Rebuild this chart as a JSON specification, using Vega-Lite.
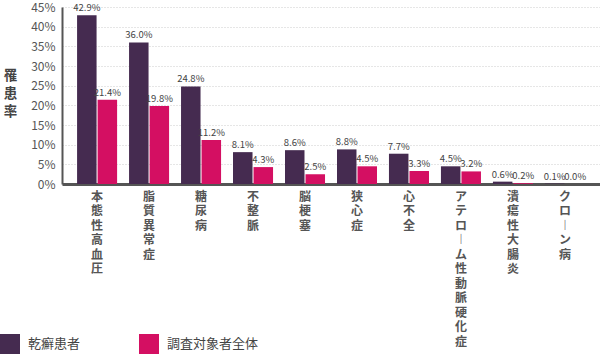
{
  "$schema": "https://vega.github.io/schema/vega-lite/v6.json",
  "autosize": "none",
  "width": 538,
  "height": 177,
  "padding": {"left": 62, "top": 7, "right": 0, "bottom": 170},
  "background": "white",
  "config": {
    "font": "Noto Sans CJK JP",
    "view": {"stroke": null}
  },
  "data": {
    "values": [
      {"disease": "本態性高血圧", "group": "乾癬患者", "rate": 0.429},
      {"disease": "本態性高血圧", "group": "調査対象者全体", "rate": 0.214},
      {"disease": "脂質異常症", "group": "乾癬患者", "rate": 0.360},
      {"disease": "脂質異常症", "group": "調査対象者全体", "rate": 0.198},
      {"disease": "糖尿病", "group": "乾癬患者", "rate": 0.248},
      {"disease": "糖尿病", "group": "調査対象者全体", "rate": 0.112},
      {"disease": "不整脈", "group": "乾癬患者", "rate": 0.081},
      {"disease": "不整脈", "group": "調査対象者全体", "rate": 0.043},
      {"disease": "脳梗塞", "group": "乾癬患者", "rate": 0.086},
      {"disease": "脳梗塞", "group": "調査対象者全体", "rate": 0.025},
      {"disease": "狭心症", "group": "乾癬患者", "rate": 0.088},
      {"disease": "狭心症", "group": "調査対象者全体", "rate": 0.045},
      {"disease": "心不全", "group": "乾癬患者", "rate": 0.077},
      {"disease": "心不全", "group": "調査対象者全体", "rate": 0.033},
      {"disease": "アテローム性動脈硬化症", "group": "乾癬患者", "rate": 0.045},
      {"disease": "アテローム性動脈硬化症", "group": "調査対象者全体", "rate": 0.032},
      {"disease": "潰瘍性大腸炎", "group": "乾癬患者", "rate": 0.006},
      {"disease": "潰瘍性大腸炎", "group": "調査対象者全体", "rate": 0.002},
      {"disease": "クローン病", "group": "乾癬患者", "rate": 0.001},
      {"disease": "クローン病", "group": "調査対象者全体", "rate": 0.0}
    ]
  },
  "encoding": {
    "x": {
      "field": "disease",
      "type": "nominal",
      "sort": null,
      "scale": {"paddingInner": 0.23, "paddingOuter": 0.29},
      "axis": {
        "title": null,
        "labelAngle": 0,
        "labelAlign": "center",
        "labelBaseline": "top",
        "labelExpr": "split(replace(datum.label, 'ー', '︱'), '')",
        "labelFontSize": 12,
        "labelFontWeight": "bold",
        "labelLineHeight": 14.5,
        "labelColor": "#555555",
        "labelPadding": 7,
        "labelLimit": 0,
        "ticks": false,
        "domainColor": "#555555",
        "domainWidth": 3
      }
    },
    "xOffset": {
      "field": "group",
      "type": "nominal",
      "sort": ["乾癬患者", "調査対象者全体"],
      "scale": {"paddingInner": 0.05, "paddingOuter": 0}
    },
    "y": {
      "field": "rate",
      "type": "quantitative",
      "scale": {"domain": [0, 0.45], "nice": false},
      "axis": {
        "values": [0, 0.05, 0.1, 0.15, 0.2, 0.25, 0.3, 0.35, 0.4, 0.45],
        "format": ".0%",
        "title": ["罹", "患", "率"],
        "titleAngle": 0,
        "titleX": -52,
        "titleY": 61,
        "titleAlign": "center",
        "titleBaseline": "top",
        "titleFontSize": 13.5,
        "titleFontWeight": "bold",
        "titleLineHeight": 18,
        "titleColor": "#444444",
        "labelFontSize": 12,
        "labelColor": "#555555",
        "labelPadding": 7,
        "ticks": false,
        "domainColor": "#555555",
        "domainWidth": 2,
        "grid": true,
        "gridColor": "#cccccc",
        "gridDash": [1, 2]
      }
    }
  },
  "layer": [
    {
      "mark": {"type": "bar"},
      "encoding": {
        "color": {
          "field": "group",
          "type": "nominal",
          "sort": ["乾癬患者", "調査対象者全体"],
          "scale": {"domain": ["乾癬患者", "調査対象者全体"], "range": ["#452b50", "#d40f62"]},
          "legend": {
            "title": null,
            "orient": "none",
            "legendX": -62,
            "legendY": 327,
            "direction": "horizontal",
            "symbolType": "square",
            "symbolSize": 400,
            "symbolStrokeWidth": 0,
            "symbolOpacity": 1,
            "labelFontSize": 13,
            "labelColor": "#444444",
            "labelOffset": 8,
            "columnPadding": 58
          }
        }
      }
    },
    {
      "mark": {"type": "text", "baseline": "bottom", "dy": -2, "fontSize": 9.5, "color": "#444444"},
      "encoding": {
        "text": {"field": "rate", "type": "quantitative", "format": ".1%"}
      }
    }
  ]
}
